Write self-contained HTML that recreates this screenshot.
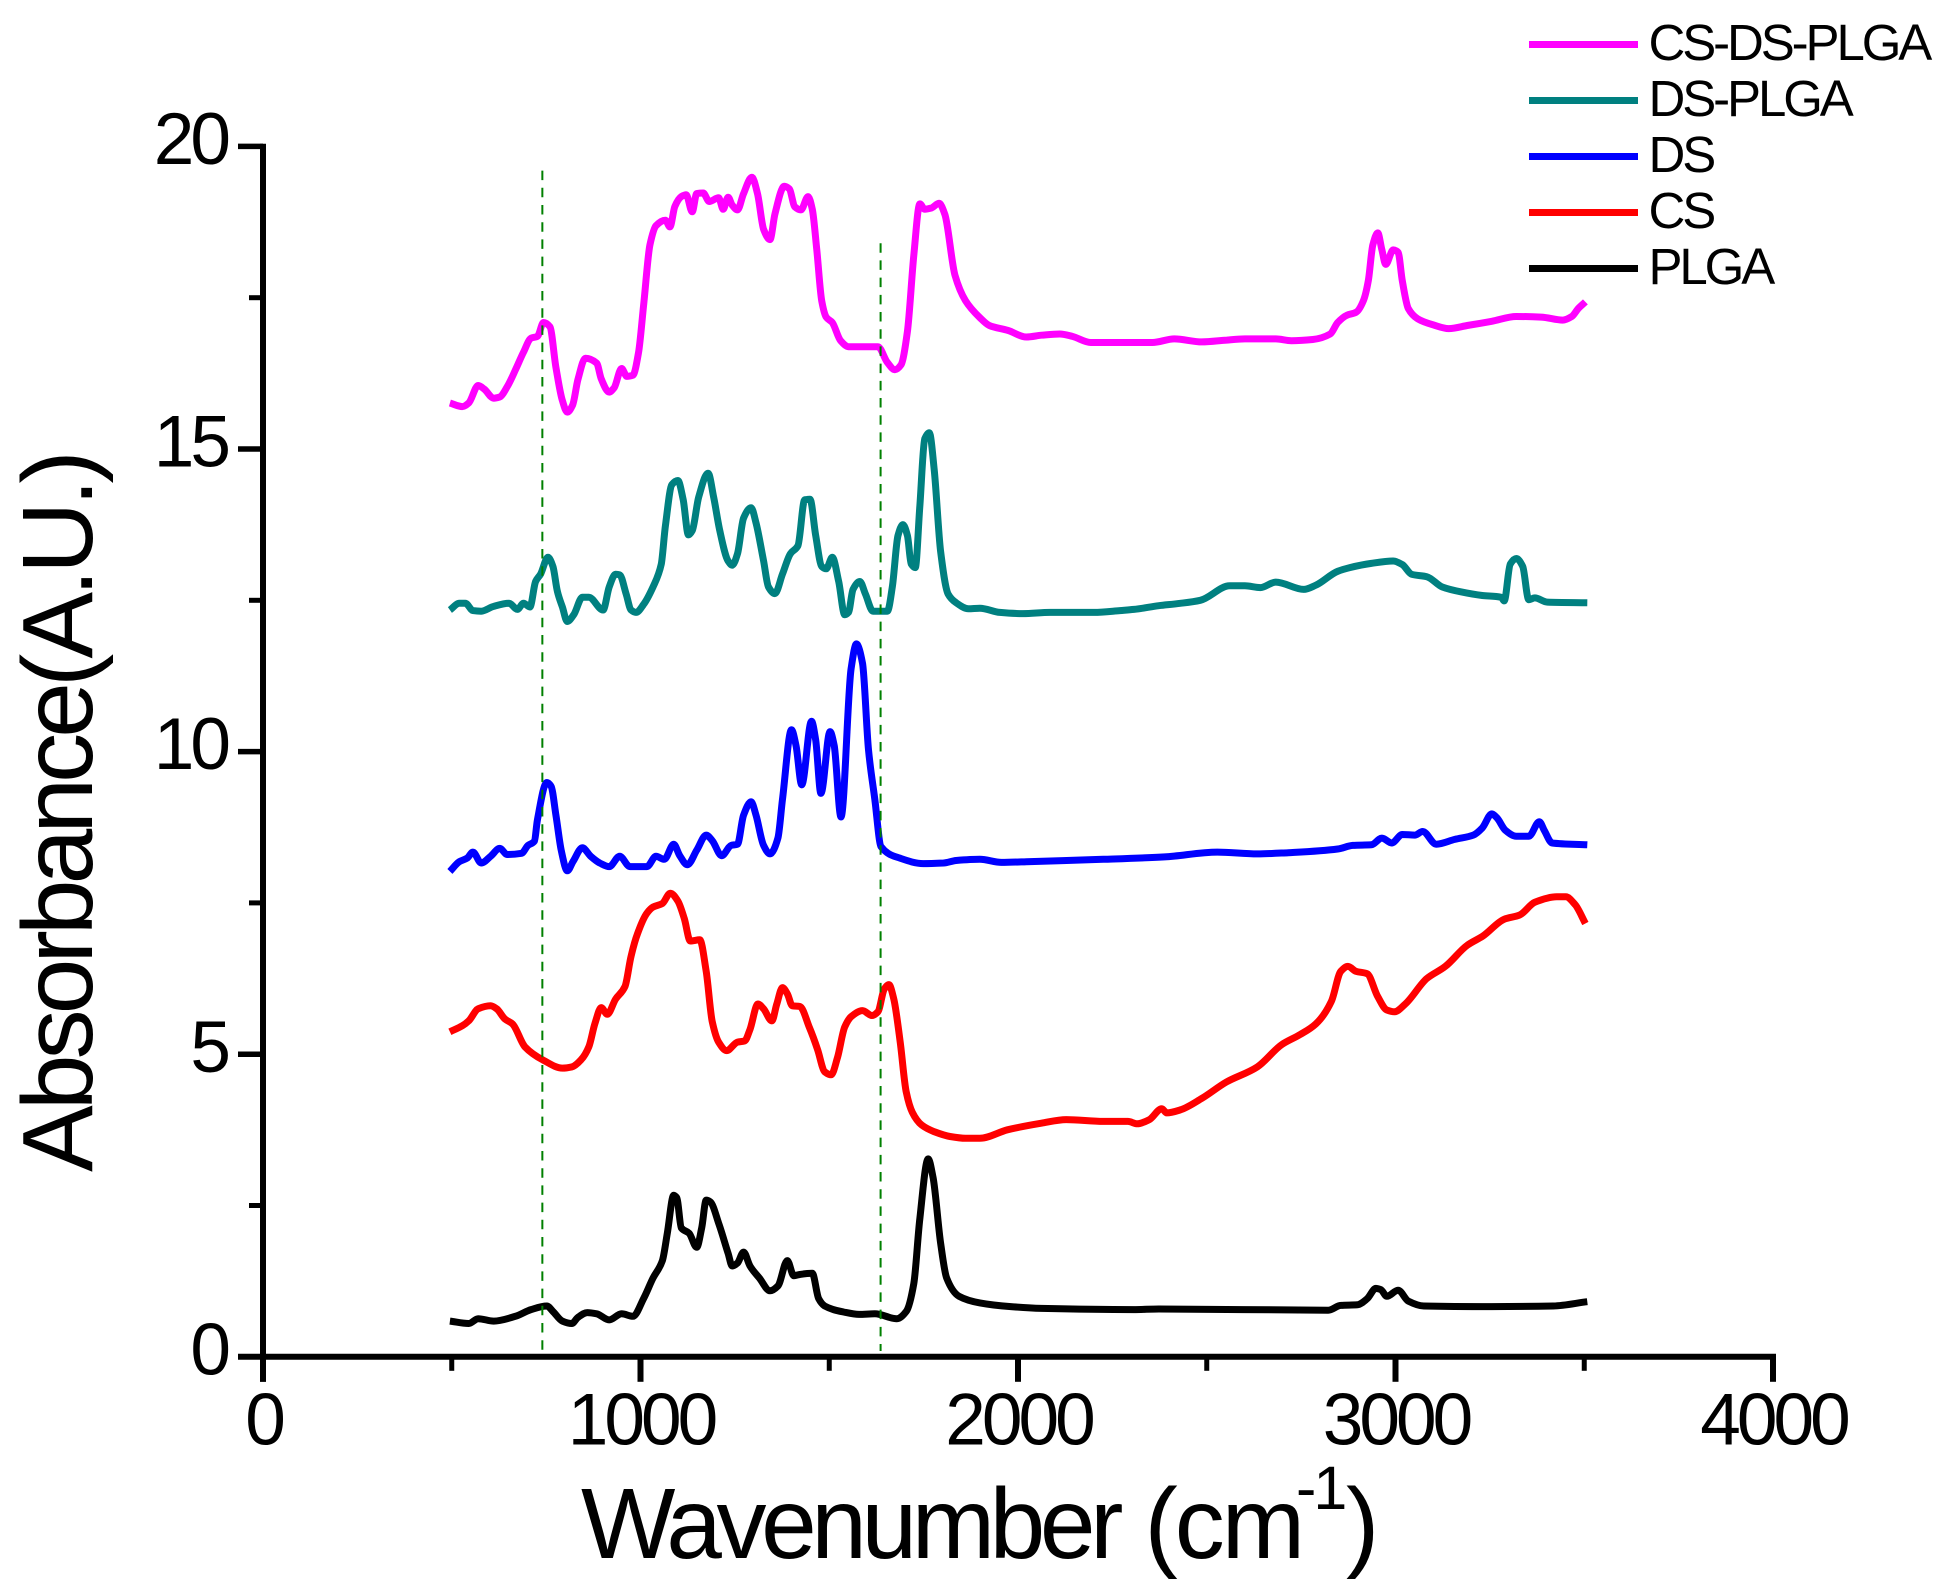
<!DOCTYPE html>
<html>
<head>
<meta charset="utf-8">
<title>FTIR Absorbance Spectra</title>
<style>
html,body{margin:0;padding:0;background:#fff;}
svg{display:block;}
text{font-family:"Liberation Sans",sans-serif;fill:#000;}
</style>
</head>
<body>
<svg id="chart" xmlns="http://www.w3.org/2000/svg" width="1947" height="1589" viewBox="0 0 1947 1589">
  <rect x="0" y="0" width="1947" height="1589" fill="#fff"/>
  <g id="series"></g>
  <g id="guides"></g>
  <g id="axes"></g>
  <text transform="translate(92,1172) rotate(-90)" font-size="100" style="letter-spacing:-4.87px">Absorbance(A.U.)</text>
  <text x="581" y="1558" font-size="100" style="letter-spacing:-5.4px">Wavenumber</text>
  <text x="1144.5" y="1558" font-size="100" style="letter-spacing:-3px">(cm</text>
  <text x="1296" y="1509" font-size="61" style="letter-spacing:-3px">-1</text>
  <text x="1346" y="1558" font-size="100">)</text>
  <g id="legend"></g>
</svg>
<script>
const xTickLabels = [0, 1000, 2000, 3000, 4000];
const xMinorTicks = [500, 1500, 2500, 3500];
const yTickLabels = [0, 5, 10, 15, 20];
const yMinorTicks = [2.5, 7.5, 12.5, 17.5];
const guideWavenumbers = [740, 1636];
const guideTops = [19.6, 18.4];

const legendLabels = ["CS-DS-PLGA", "DS-PLGA", "DS", "CS", "PLGA"];

const csDsPlgaX = [495,528,545,570,586,611,627,647,669,690,710,727,743,760,776,793,806,820,834,854,884,896,917,930,950,964,980,995,1008,1025,1041,1066,1078,1091,1108,1121,1137,1149,1166,1182,1207,1219,1232,1243,1257,1273,1295,1310,1326,1343,1356,1381,1394,1409,1425,1444,1455,1467,1480,1492,1508,1530,1551,1613,1629,1654,1674,1690,1707,1724,1740,1753,1770,1791,1806,1833,1861,1899,1924,1973,2022,2062,2111,2144,2193,2356,2414,2487,2553,2601,2683,2724,2781,2827,2847,2871,2896,2915,2928,2940,2953,2964,2974,2994,3007,3018,3034,3059,3100,3141,3190,3255,3320,3386,3443,3467,3484,3503];
const csDsPlgaY = [15.76,15.70,15.76,16.05,15.99,15.84,15.86,16.03,16.31,16.60,16.83,16.86,17.09,17.02,16.35,15.80,15.61,15.72,16.14,16.50,16.42,16.16,15.94,16.01,16.33,16.20,16.22,16.60,17.36,18.37,18.69,18.78,18.67,19.01,19.17,19.20,18.92,19.22,19.23,19.09,19.15,18.96,19.16,19.03,18.95,19.22,19.49,19.22,18.63,18.46,18.88,19.34,19.30,19.00,18.95,19.17,18.96,18.29,17.45,17.18,17.09,16.79,16.69,16.69,16.69,16.43,16.31,16.39,16.94,18.20,19.05,18.96,18.98,19.06,18.88,17.87,17.45,17.17,17.04,16.96,16.85,16.88,16.90,16.86,16.76,16.76,16.82,16.77,16.80,16.82,16.82,16.79,16.81,16.90,17.09,17.21,17.26,17.45,17.78,18.37,18.57,18.29,18.05,18.29,18.25,17.78,17.32,17.15,17.05,16.99,17.04,17.11,17.19,17.18,17.13,17.19,17.32,17.43];

const dsPlgaX = [495,520,536,556,578,611,652,674,690,707,722,735,755,768,780,793,806,823,846,863,901,917,934,945,962,975,988,1008,1033,1055,1066,1083,1099,1113,1127,1137,1154,1179,1194,1210,1232,1243,1257,1273,1293,1306,1326,1339,1356,1376,1397,1417,1435,1449,1464,1480,1492,1508,1525,1541,1551,1563,1581,1596,1616,1654,1667,1682,1695,1707,1717,1728,1740,1753,1765,1778,1795,1815,1836,1869,1899,1952,2013,2085,2201,2270,2307,2373,2430,2483,2561,2601,2642,2683,2757,2789,2847,2879,2936,2994,3018,3043,3083,3124,3173,3230,3280,3288,3304,3320,3337,3353,3369,3402,3508];
const dsPlgaY = [12.34,12.45,12.45,12.33,12.32,12.40,12.45,12.35,12.45,12.39,12.81,12.93,13.21,13.06,12.64,12.39,12.15,12.26,12.55,12.55,12.34,12.72,12.93,12.92,12.60,12.34,12.30,12.43,12.72,13.10,13.73,14.41,14.48,14.16,13.58,13.65,14.20,14.60,14.20,13.65,13.15,13.08,13.27,13.86,14.03,13.78,13.15,12.72,12.61,12.93,13.27,13.40,14.16,14.17,13.57,13.06,13.02,13.21,12.81,12.26,12.30,12.68,12.81,12.60,12.32,12.32,12.72,13.57,13.75,13.57,13.10,13.04,14.07,15.17,15.27,14.66,13.31,12.60,12.46,12.36,12.37,12.30,12.28,12.30,12.30,12.33,12.35,12.41,12.45,12.50,12.74,12.74,12.71,12.80,12.68,12.75,12.98,13.04,13.11,13.15,13.09,12.93,12.89,12.72,12.64,12.58,12.55,12.49,13.10,13.19,13.06,12.51,12.54,12.47,12.46];

const dsX = [495,520,541,556,578,603,627,647,685,702,719,727,752,763,776,790,806,821,846,868,892,917,945,972,1017,1041,1063,1088,1104,1124,1149,1174,1190,1215,1240,1257,1273,1293,1306,1326,1343,1364,1376,1400,1412,1427,1453,1464,1478,1502,1513,1531,1558,1572,1588,1604,1621,1637,1687,1749,1803,1836,1899,1956,2022,2226,2389,2528,2634,2716,2847,2887,2936,2964,2990,3018,3051,3072,3108,3157,3206,3230,3255,3268,3291,3320,3353,3381,3394,3415,3508];
const dsY = [8.02,8.18,8.24,8.34,8.16,8.27,8.40,8.30,8.32,8.45,8.52,8.87,9.49,9.43,8.95,8.37,8.03,8.18,8.41,8.27,8.16,8.10,8.27,8.10,8.10,8.27,8.22,8.47,8.28,8.13,8.37,8.62,8.53,8.28,8.45,8.47,8.95,9.17,8.95,8.45,8.31,8.57,9.20,10.36,10.10,9.45,10.50,10.19,9.31,10.33,10.10,8.92,11.37,11.78,11.46,10.03,9.20,8.43,8.24,8.15,8.16,8.20,8.22,8.17,8.18,8.22,8.26,8.34,8.31,8.33,8.39,8.45,8.46,8.57,8.49,8.63,8.62,8.68,8.47,8.55,8.62,8.74,8.97,8.91,8.70,8.60,8.60,8.84,8.70,8.49,8.46];

const csX = [495,528,545,570,603,619,641,661,694,743,793,818,843,863,879,896,912,934,959,975,992,1017,1033,1058,1079,1099,1116,1132,1157,1174,1190,1207,1228,1257,1276,1290,1311,1326,1348,1361,1376,1389,1402,1422,1447,1469,1488,1505,1522,1541,1558,1588,1613,1629,1646,1658,1671,1688,1704,1720,1745,1778,1820,1861,1899,1972,2062,2128,2226,2291,2316,2348,2381,2394,2430,2487,2552,2634,2699,2749,2789,2830,2855,2874,2895,2925,2953,2977,2997,3026,3083,3132,3190,3231,3288,3329,3369,3427,3451,3476,3503];
const csY = [5.37,5.47,5.55,5.75,5.80,5.75,5.58,5.50,5.12,4.90,4.77,4.79,4.91,5.12,5.50,5.77,5.66,5.91,6.12,6.62,6.99,7.33,7.43,7.49,7.66,7.53,7.24,6.87,6.89,6.37,5.54,5.20,5.06,5.20,5.22,5.41,5.83,5.75,5.55,5.83,6.10,6.00,5.80,5.79,5.45,5.08,4.71,4.66,4.95,5.45,5.62,5.72,5.64,5.70,6.08,6.15,5.91,5.20,4.37,4.04,3.83,3.72,3.64,3.61,3.61,3.75,3.86,3.92,3.89,3.89,3.85,3.92,4.10,4.03,4.08,4.27,4.54,4.79,5.16,5.33,5.50,5.87,6.37,6.45,6.37,6.33,5.95,5.73,5.70,5.83,6.25,6.45,6.80,6.95,7.23,7.30,7.51,7.60,7.60,7.47,7.16];

const plgaX = [495,545,570,611,669,710,752,768,793,818,834,859,884,917,950,980,1008,1033,1058,1071,1088,1096,1108,1129,1149,1162,1174,1185,1207,1232,1243,1257,1273,1290,1315,1343,1364,1389,1406,1422,1455,1472,1488,1538,1579,1621,1679,1704,1724,1740,1762,1775,1795,1811,1844,1899,1981,2062,2307,2373,2822,2855,2899,2925,2948,2961,2977,3007,3034,3075,3255,3418,3508];
const plgaY = [0.59,0.55,0.63,0.59,0.67,0.78,0.84,0.75,0.59,0.55,0.65,0.73,0.71,0.61,0.71,0.67,0.96,1.30,1.59,2.04,2.67,2.63,2.13,2.04,1.81,2.13,2.59,2.56,2.21,1.71,1.50,1.55,1.73,1.50,1.30,1.09,1.17,1.59,1.34,1.36,1.38,0.96,0.84,0.74,0.70,0.71,0.63,0.75,1.21,2.29,3.27,2.96,1.88,1.30,1.00,0.89,0.83,0.80,0.78,0.79,0.77,0.85,0.86,0.96,1.13,1.11,1.00,1.10,0.92,0.84,0.83,0.84,0.91];

const SVG_NS = "http://www.w3.org/2000/svg";
function xScale(w) { return 263 + w * 0.3775; }
function yScale(a) { return 1356.8 - a * 60.52; }
function svgEl(tag, parent) {
  const el = document.createElementNS(SVG_NS, tag);
  parent.appendChild(el);
  return el;
}
function drawLine(el, x1, y1, x2, y2, color, width) {
  el.setAttribute("x1", x1);
  el.setAttribute("y1", y1);
  el.setAttribute("x2", x2);
  el.setAttribute("y2", y2);
  el.setAttribute("stroke", color);
  el.setAttribute("stroke-width", width);
}
/* monotone cubic path through the mapped data points */
function smoothPath(xs, ys) {
  const px = xs.map(xScale);
  const py = ys.map(yScale);
  const n = px.length;
  const sl = [];
  for (let i = 0; i < n - 1; i++) { sl.push((py[i + 1] - py[i]) / (px[i + 1] - px[i])); }
  const m = [sl[0]];
  for (let i = 1; i < n - 1; i++) {
    if (sl[i - 1] * sl[i] <= 0) { m.push(0); }
    else {
      const h0 = px[i] - px[i - 1], h1 = px[i + 1] - px[i];
      const w1 = 2 * h1 + h0, w2 = h1 + 2 * h0;
      m.push((w1 + w2) / (w1 / sl[i - 1] + w2 / sl[i]));
    }
  }
  m.push(sl[n - 2]);
  let d = "M" + px[0].toFixed(1) + " " + py[0].toFixed(1);
  for (let i = 0; i < n - 1; i++) {
    const h = (px[i + 1] - px[i]) / 3;
    d += "C" + (px[i] + h).toFixed(1) + " " + (py[i] + m[i] * h).toFixed(1) + " " +
      (px[i + 1] - h).toFixed(1) + " " + (py[i + 1] - m[i + 1] * h).toFixed(1) + " " +
      px[i + 1].toFixed(1) + " " + py[i + 1].toFixed(1);
  }
  return d;
}

function drawSeries(xs, ys, color, name, width) {
  const el = svgEl("path", document.getElementById("series"));
  
  
  el.setAttribute("d", smoothPath(xs, ys));
  el.setAttribute("fill", "none");
  el.setAttribute("stroke", color);
  el.setAttribute("stroke-width", width);
  el.setAttribute("stroke-linejoin", "round");
}
drawSeries(plgaX, plgaY, "#000000", "series-plga", 7);
drawSeries(csX, csY, "#ff0000", "series-cs", 7);
drawSeries(dsX, dsY, "#0000ff", "series-ds", 7);
drawSeries(dsPlgaX, dsPlgaY, "#008080", "series-ds-plga", 7);
drawSeries(csDsPlgaX, csDsPlgaY, "#ff00ff", "series-cs-ds-plga", 7);

const guidesGroup = document.getElementById("guides");
guideWavenumbers.forEach(function (w, i) {
  const el = svgEl("line", guidesGroup);
  
  
  drawLine(el, xScale(w), yScale(guideTops[i]), xScale(w), 1351, "#008000", 2);
  el.setAttribute("stroke-dasharray", "9.5 7.7");
});

const axesGroup = document.getElementById("axes");
const AX = "#000";
const yAxisLine = svgEl("line", axesGroup);


drawLine(yAxisLine, xScale(0), yScale(20) - 2.7, xScale(0), yScale(0) + 25, AX, 6);
const xAxisLine = svgEl("line", axesGroup);


drawLine(xAxisLine, xScale(0) - 25, yScale(0), xScale(4000) + 3, yScale(0), AX, 6);

yTickLabels.forEach(function (v) {
  const t = svgEl("line", axesGroup);
  
  
  drawLine(t, xScale(0) - 25, yScale(v), xScale(0), yScale(v), AX, 5.5);
  const l = svgEl("text", axesGroup);
  
  
  l.setAttribute("x", 227);
  l.setAttribute("y", yScale(v) + 17.6);
  l.setAttribute("text-anchor", "end");
  l.setAttribute("font-size", "73");
  l.setAttribute("style", "letter-spacing:-4px");
  l.textContent = v;
});
yMinorTicks.forEach(function (v) {
  const t = svgEl("line", axesGroup);
  
  
  drawLine(t, xScale(0) - 14, yScale(v), xScale(0), yScale(v), AX, 5);
});
xTickLabels.forEach(function (v) {
  const t = svgEl("line", axesGroup);
  
  
  drawLine(t, xScale(v), yScale(0), xScale(v), yScale(0) + 25, AX, 6);
  const l = svgEl("text", axesGroup);
  
  
  l.setAttribute("x", xScale(v) + 0.5);
  l.setAttribute("y", 1444.5);
  l.setAttribute("text-anchor", "middle");
  l.setAttribute("font-size", "73");
  l.setAttribute("style", "letter-spacing:-4px");
  l.textContent = v;
});
xMinorTicks.forEach(function (v) {
  const t = svgEl("line", axesGroup);
  
  
  drawLine(t, xScale(v), yScale(0), xScale(v), yScale(0) + 14, AX, 5);
});

const legendGroup = document.getElementById("legend");
const legendColors = ["#ff00ff", "#008080", "#0000ff", "#ff0000", "#000000"];
legendLabels.forEach(function (label, i) {
  const y = 44.5 + i * 56;
  const s = svgEl("line", legendGroup);
  
  
  drawLine(s, 1529, y, 1638, y, legendColors[i], 7);
  const t = svgEl("text", legendGroup);
  
  
  t.setAttribute("x", 1648.5);
  t.setAttribute("y", y + 15.5);
  t.setAttribute("font-size", "51");
  t.setAttribute("style", "letter-spacing:-3.1px");
  t.textContent = label;
});
</script>
</body>
</html>
